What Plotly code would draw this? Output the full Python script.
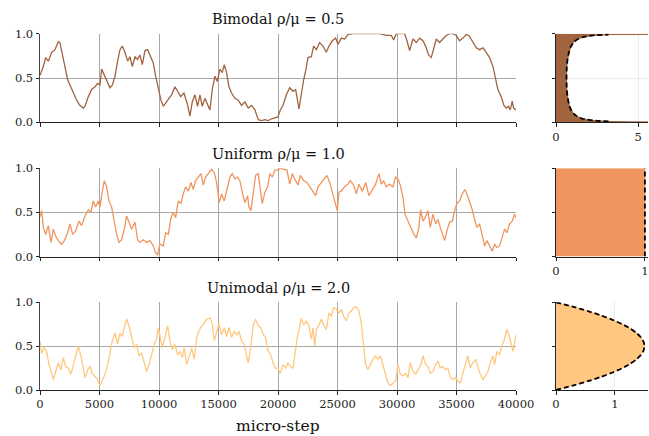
import plotly.graph_objects as go

# ---------------- data ----------------
bi_step = [0, 280, 476, 700, 980, 1260, 1540, 1680, 1876, 2100, 2324, 2520, 2800, 3080, 3360, 3640, 3780, 4060,
           4340, 4620, 4844, 5040, 5180, 5320, 5600, 5880, 6076, 6300, 6496, 6720, 6916, 7140, 7364, 7560, 7756,
           7980, 8204, 8400, 8596, 8820, 9044, 9240, 9520, 9716, 9940, 10164, 10360, 10584, 10836, 11060, 11340,
           11564, 11816, 12096, 12376, 12600, 12796, 13020, 13244, 13440, 13636, 13860, 14084, 14280, 14476, 14700,
           14896, 15120, 15316, 15484, 15680, 15876, 16100, 16380, 16660, 16940, 17220, 17500, 17780, 18060, 18340,
           18620, 18900, 19180, 19460, 19740,
           20000, 20196, 20420, 20700, 20980, 21260, 21484, 21764, 21960, 22156, 22324, 22520, 22800, 22996, 23220,
           23500, 23780, 24060, 24284, 24564, 24844, 25040, 25320, 25600, 25880, 26300, 26860, 27420, 27980, 28540,
           29100, 29520, 29716, 29940, 30360, 30640, 30836, 31060, 31340, 31620, 31900, 32180, 32404, 32656, 32880,
           33076, 33300, 33580, 33860, 34140, 34420, 34700, 34980, 35260, 35540, 35820, 36044, 36380, 36660, 36940,
           37220, 37500, 37780, 38060, 38284, 38480, 38760, 38984, 39180, 39376, 39516, 39684, 39796, 40000]
bi_val = [0.53, 0.63, 0.73, 0.69, 0.79, 0.82, 0.91, 0.90, 0.77, 0.63, 0.48, 0.42, 0.33, 0.25, 0.19, 0.16, 0.18, 0.29,
          0.37, 0.40, 0.44, 0.42, 0.60, 0.56, 0.48, 0.39, 0.42, 0.52, 0.67, 0.82, 0.86, 0.79, 0.69, 0.74, 0.63,
          0.74, 0.71, 0.76, 0.65, 0.81, 0.82, 0.76, 0.67, 0.52, 0.37, 0.25, 0.18, 0.23, 0.27, 0.31, 0.40,
          0.35, 0.29, 0.33, 0.21, 0.07, 0.23, 0.31, 0.18, 0.31, 0.18, 0.27, 0.21, 0.14, 0.37, 0.52,
          0.46, 0.60, 0.56, 0.65, 0.56, 0.40, 0.33, 0.27, 0.25, 0.19, 0.23, 0.16, 0.19, 0.14, 0.03,
          0.02, 0.03, 0.02, 0.04, 0.05,
          0.06, 0.14, 0.19, 0.31, 0.39, 0.35, 0.37, 0.15, 0.33, 0.48, 0.58, 0.73, 0.74, 0.86, 0.82,
          0.90, 0.86, 0.79, 0.86, 0.92, 0.95, 0.88, 0.95, 0.94, 0.99, 1.00, 1.00, 1.00, 1.00, 1.00,
          0.98, 0.98, 0.93, 1.00, 1.00, 1.00, 0.92, 0.81, 0.94, 0.90, 0.95, 0.92, 0.86, 0.76, 0.73,
          0.84, 0.94, 0.90, 0.94, 0.98, 1.00, 1.00, 0.98, 0.92, 0.95, 0.99, 0.98, 0.90, 0.84, 0.82,
          0.84, 0.79, 0.73, 0.63, 0.48, 0.37, 0.29, 0.19, 0.16, 0.18, 0.14, 0.24, 0.16, 0.14]

uni_step = [0, 140, 280, 476, 700, 924, 1120, 1316, 1540, 1820, 2044, 2324, 2520, 2744, 2996, 3276, 3500, 3780,
            4060, 4284, 4480, 4676, 4900, 5040, 5236, 5404, 5600, 5796, 6020, 6244, 6440, 6636, 6860, 7084, 7280,
            7476, 7700, 7980, 8204, 8400, 8680, 8960, 9240, 9520, 9716, 9884, 10080, 10360, 10556, 10780, 11004,
            11200, 11396, 11620, 11844, 12040, 12236, 12460, 12684, 12880, 13076, 13300, 13524, 13720, 13916,
            14140, 14420, 14644, 14840, 15064, 15260, 15484, 15680, 15960, 16156, 16380, 16604, 16800, 16996,
            17220, 17444, 17556, 17724, 17920, 18116, 18340, 18480, 18676, 18900, 19124, 19320, 19516, 19740,
            20000, 20196, 20476, 20756, 20980, 21204, 21400, 21680, 21876, 22156, 22436, 22660, 22940, 23164,
            23360, 23640, 23920, 24116, 24340, 24620, 24844, 24984, 25124, 25320, 25600, 25880, 26076, 26356,
            26580, 26804, 27084, 27364, 27644, 27924, 28204, 28484, 28680, 28876, 29100, 29380, 29660, 29884,
            30080, 30276, 30500, 30668, 30920, 31200, 31424, 31620, 31844, 31984, 32180, 32376, 32600, 32796,
            33020, 33244, 33440, 33636, 33860, 34000, 34196, 34420, 34644, 34840, 35036, 35260, 35484, 35708,
            35876, 36100, 36324, 36520, 36716, 36940, 37164, 37360, 37556, 37780, 38004, 38200, 38396, 38620,
            38844, 39040, 39236, 39460, 39684, 39880, 40000]
uni_val = [0.45, 0.52, 0.33, 0.25, 0.35, 0.16, 0.31, 0.23, 0.18, 0.14, 0.18, 0.27, 0.37, 0.25, 0.29, 0.40, 0.35, 0.46,
           0.53, 0.50, 0.63, 0.56, 0.63, 0.56, 0.74, 0.86, 0.79, 0.63, 0.56, 0.40, 0.25, 0.16, 0.19, 0.31, 0.46,
           0.39, 0.31, 0.39, 0.19, 0.16, 0.19, 0.16, 0.18, 0.12, 0.04, 0.02, 0.14, 0.12, 0.27, 0.25, 0.44,
           0.50, 0.44, 0.63, 0.60, 0.71, 0.79, 0.74, 0.84, 0.76, 0.86, 0.90, 0.94, 0.81, 0.90,
           0.94, 0.99, 0.95, 0.84, 0.61, 0.71, 0.63, 0.74, 0.90, 0.94, 0.88, 0.90, 0.86, 0.73,
           0.61, 0.69, 0.56, 0.52, 0.74, 0.92, 0.94, 0.82, 0.60, 0.73, 0.79, 0.94, 0.90, 0.98,
           0.98, 1.00, 0.99, 0.98, 0.82, 0.94, 0.88, 0.81, 0.92, 0.86, 0.84, 0.79, 0.74, 0.69,
           0.79, 0.84, 0.88, 0.92, 0.84, 0.71, 0.61, 0.52, 0.73, 0.74, 0.79, 0.82, 0.86, 0.81,
           0.71, 0.82, 0.74, 0.84, 0.69, 0.76, 0.82, 0.94, 0.82, 0.86, 0.79, 0.82, 0.79, 0.90,
           0.88, 0.81, 0.67, 0.48, 0.40, 0.33, 0.25, 0.21, 0.33, 0.53, 0.40, 0.44, 0.52, 0.33,
           0.48, 0.37, 0.42, 0.33, 0.25, 0.18, 0.29, 0.39, 0.40, 0.52, 0.60, 0.63, 0.71, 0.76,
           0.71, 0.63, 0.53, 0.42, 0.33, 0.37, 0.23, 0.12, 0.18, 0.12, 0.06, 0.14, 0.10, 0.12,
           0.21, 0.31, 0.27, 0.37, 0.40, 0.48, 0.44]

mono_step = [0, 140, 364, 560, 756, 980, 1120, 1316, 1540, 1764, 1960, 2156, 2380, 2604, 2800, 2996, 3220, 3444,
             3640, 3780, 4004, 4200, 4396, 4620, 4844, 5040, 5236, 5460, 5684, 5880, 6076, 6300, 6524, 6720, 6916,
             7084, 7280, 7476, 7700, 7924, 8120, 8316, 8540, 8764, 8960, 9156, 9380, 9604, 9800, 9940, 10108,
             10276, 10500, 10724, 10920, 11116, 11340, 11564, 11760, 11956, 12124, 12320, 12516, 12740, 12964,
             13160, 13356, 13580, 13804, 14000, 14280, 14476, 14644, 14840, 15036, 15260, 15484, 15680, 15876,
             16100, 16324, 16520, 16716, 16940, 17164, 17360, 17500, 17696, 17920, 18116, 18340, 18564, 18760,
             18956, 19124, 19320, 19516, 19740,
             20000, 20196, 20420, 20644, 20840, 21036, 21260, 21456, 21624, 21820, 21960, 22156, 22380, 22604,
             22800, 22940, 23080, 23220, 23444, 23640, 23836, 24060, 24284, 24480, 24676, 24900, 25124, 25320,
             25516, 25740, 25964, 26160, 26356, 26580, 26804, 27000, 27196, 27364, 27560, 27756, 27980, 28204,
             28400, 28596, 28820, 29044, 29240, 29436, 29660, 29884, 30080, 30276, 30500, 30724, 30920, 31116,
             31340, 31564, 31760, 31956, 32180, 32404, 32600, 32796, 33020, 33244, 33440, 33636, 33860, 34084,
             34280, 34476, 34700, 34924, 35120, 35316, 35540, 35764, 35960, 36156, 36380, 36604, 36800, 36996,
             37220, 37444, 37640, 37836, 38060, 38200, 38396, 38620, 38844, 39040, 39236, 39404, 39600, 39740,
             39880, 40000]
mono_val = [0.56, 0.42, 0.48, 0.44, 0.29, 0.19, 0.12, 0.21, 0.31, 0.23, 0.37, 0.27, 0.25, 0.18, 0.29, 0.37, 0.50, 0.39,
            0.25, 0.14, 0.23, 0.27, 0.19, 0.16, 0.12, 0.05, 0.12, 0.18, 0.29, 0.44, 0.56, 0.65, 0.52, 0.65, 0.61,
            0.71, 0.81, 0.73, 0.60, 0.48, 0.52, 0.39, 0.42, 0.31, 0.21, 0.29, 0.42, 0.52, 0.58, 0.71, 0.60,
            0.48, 0.60, 0.73, 0.56, 0.46, 0.52, 0.40, 0.44, 0.37, 0.48, 0.29, 0.37, 0.48, 0.35,
            0.60, 0.67, 0.73, 0.76, 0.81, 0.82, 0.76, 0.56, 0.67, 0.76, 0.63, 0.71, 0.61, 0.71,
            0.60, 0.67, 0.63, 0.67, 0.56, 0.52, 0.39, 0.31, 0.48, 0.74, 0.81, 0.73, 0.71, 0.63,
            0.60, 0.46, 0.42, 0.35, 0.25,
            0.25, 0.19, 0.29, 0.25, 0.31, 0.27, 0.25, 0.42, 0.60, 0.71, 0.82, 0.74, 0.79, 0.73,
            0.58, 0.71, 0.50, 0.69, 0.74, 0.81, 0.74, 0.69, 0.88, 0.84, 0.94, 0.92, 0.88, 0.92,
            0.84, 0.79, 0.88, 0.90, 0.94, 0.95, 0.90, 0.76, 0.52, 0.29, 0.23, 0.29, 0.35, 0.39,
            0.35, 0.39, 0.27, 0.18, 0.08, 0.05, 0.07, 0.10, 0.29, 0.18, 0.16, 0.19, 0.14, 0.31,
            0.21, 0.18, 0.23, 0.27, 0.39, 0.29, 0.27, 0.19, 0.21, 0.29, 0.33, 0.25, 0.27, 0.23,
            0.25, 0.14, 0.12, 0.14, 0.10, 0.08, 0.19, 0.29, 0.39, 0.25, 0.31, 0.35, 0.27, 0.18,
            0.12, 0.16, 0.21, 0.31, 0.39, 0.29, 0.44, 0.40, 0.52, 0.58, 0.69, 0.63, 0.52, 0.44,
            0.53, 0.63]

# stationary densities (right-hand panels)
bi_dens_y = [0.0001, 0.001, 0.005, 0.01, 0.02, 0.04, 0.07, 0.10, 0.15, 0.20, 0.30, 0.40, 0.50,
             0.60, 0.70, 0.80, 0.85, 0.90, 0.93, 0.96, 0.98, 0.99, 0.995, 0.999, 0.9999]
bi_dens_x = [31.8, 10.07, 4.51, 3.20, 2.27, 1.62, 1.25, 1.06, 0.891, 0.796, 0.695, 0.650, 0.637,
             0.650, 0.695, 0.796, 0.891, 1.06, 1.25, 1.62, 2.27, 3.20, 4.51, 10.07, 31.8]
uni_dens_y = [0.0, 1.0]
uni_dens_x = [1.0, 1.0]
mono_dens_y = [0.0, 0.05, 0.10, 0.15, 0.20, 0.25, 0.30, 0.35, 0.40, 0.45, 0.50,
               0.55, 0.60, 0.65, 0.70, 0.75, 0.80, 0.85, 0.90, 0.95, 1.0]
mono_dens_x = [0.0, 0.285, 0.54, 0.765, 0.96, 1.125, 1.26, 1.365, 1.44, 1.485, 1.5,
               1.485, 1.44, 1.365, 1.26, 1.125, 0.96, 0.765, 0.54, 0.285, 0.0]

titles = ["Bimodal ρ/μ = 0.5", "Uniform ρ/μ = 1.0", "Unimodal ρ/μ = 2.0"]
colors = ["#a0643f", "#ef955f", "#ffc77f"]
x_ticks = [0, 5000, 10000, 15000, 20000, 25000, 30000, 35000, 40000]
x_ticktext = ["0", "5000", "10000", "15000", "20000", "25000", "30000", "35000", "40000"]
dens_xmax = [5.6, 1.035, 1.56]
dens_ticks = [[0, 5], [0, 1], [0, 1]]

# ---------------- figure ----------------
W, H = 649, 436
FONT = "DejaVu Serif"
rows_px = [(33.7, 122.3), (168.3, 256.5), (302.3, 390.0)]
left_px = (40, 516)
right_px = (556, 648)

fig = go.Figure()
series = [(bi_step, bi_val), (uni_step, uni_val), (mono_step, mono_val)]
dens = [(bi_dens_x, bi_dens_y), (uni_dens_x, uni_dens_y), (mono_dens_x, mono_dens_y)]
dash_range = [(3, 22), (0, 2), (0, 21)]

for i in range(3):
    xa_l, ya_l = f"x{2*i+1}", f"y{2*i+1}"
    xa_r, ya_r = f"x{2*i+2}", f"y{2*i+2}"
    sx, sy = series[i]
    fig.add_trace(go.Scatter(x=sx, y=sy, mode="lines", line=dict(color=colors[i], width=1.3),
                             xaxis=xa_l, yaxis=ya_l, showlegend=False, hoverinfo="skip"))
    dx, dy = dens[i]
    fig.add_trace(go.Scatter(x=dx, y=dy, mode="lines", fill="tozerox", fillcolor=colors[i],
                             line=dict(color=colors[i], width=1),
                             xaxis=xa_r, yaxis=ya_r, showlegend=False, hoverinfo="skip"))
    a, b = dash_range[i]
    fig.add_trace(go.Scatter(x=dx[a:b], y=dy[a:b], mode="lines",
                             line=dict(color="black", width=1.8, dash="5px,3px",
                                       shape="spline" if i != 1 else "linear", smoothing=0.6),
                             xaxis=xa_r, yaxis=ya_r, showlegend=False, hoverinfo="skip"))

tickfont = dict(family=FONT, size=11.5, color="#222")
layout = dict(width=W, height=H, margin=dict(l=0, r=0, t=0, b=0, autoexpand=False),
              paper_bgcolor="white", plot_bgcolor="white", showlegend=False)

for i in range(3):
    top, bot = rows_px[i]
    ydom = [1 - bot / H, 1 - top / H]
    n_l, n_r = 2 * i + 1, 2 * i + 2
    layout[f"xaxis{n_l}"] = dict(domain=[left_px[0] / W, left_px[1] / W], range=[0, 40000],
                                 anchor=f"y{n_l}", tickvals=x_ticks, ticktext=x_ticktext,
                                 showticklabels=(i == 2), automargin=False,
                                 ticks="outside", ticklen=3.5, tickcolor="#222", tickwidth=1,
                                 showgrid=True, gridcolor="#a8a8a8", gridwidth=1,
                                 showline=True, linecolor="#222", linewidth=1, zeroline=False,
                                 tickfont=tickfont)
    layout[f"yaxis{n_l}"] = dict(domain=ydom, range=[0, 1], anchor=f"x{n_l}", automargin=False,
                                 tickvals=[0, 0.5, 1], ticktext=["0.0", "0.5", "1.0"],
                                 ticks="outside", ticklen=3.5, tickcolor="#222", tickwidth=1,
                                 showgrid=True, gridcolor="#a8a8a8", gridwidth=1,
                                 showline=True, linecolor="#444", linewidth=1, zeroline=False,
                                 tickfont=tickfont)
    layout[f"xaxis{n_r}"] = dict(domain=[right_px[0] / W, right_px[1] / W], range=[0, dens_xmax[i]],
                                 anchor=f"y{n_r}", tickvals=dens_ticks[i], automargin=False,
                                 ticktext=[str(t) for t in dens_ticks[i]],
                                 ticks="outside", ticklen=3.5, tickcolor="#222", tickwidth=1,
                                 showgrid=True, gridcolor="#ececec", gridwidth=1,
                                 showline=True, linecolor="#222", linewidth=1, zeroline=False,
                                 tickfont=tickfont)
    layout[f"yaxis{n_r}"] = dict(domain=ydom, range=[0, 1], anchor=f"x{n_r}", automargin=False,
                                 tickvals=[0, 0.5, 1], showticklabels=False,
                                 ticks="outside", ticklen=3.5, tickcolor="#222", tickwidth=1,
                                 showgrid=True, gridcolor="#ececec", gridwidth=1,
                                 showline=True, linecolor="#222", linewidth=1, zeroline=False)

fig.update_layout(**layout)

title_cy = [19.5, 153.5, 287.5]
cx = (left_px[0] + left_px[1]) / 2 / W
for i in range(3):
    fig.add_annotation(text=titles[i], x=cx, y=1 - title_cy[i] / H, xref="paper", yref="paper",
                       xanchor="center", yanchor="middle", showarrow=False,
                       font=dict(family=FONT, size=14.5, color="#111"))
fig.add_annotation(text="micro-step", x=cx, y=1 - 426 / H, xref="paper", yref="paper",
                   xanchor="center", yanchor="middle", showarrow=False,
                   font=dict(family=FONT, size=15.5, color="#111"))

fig.write_html("out.html", config={"displayModeBar": False},
               post_script="document.body.style.margin='0px';document.body.style.padding='0px';"
                           "document.body.style.overflow='hidden';")
